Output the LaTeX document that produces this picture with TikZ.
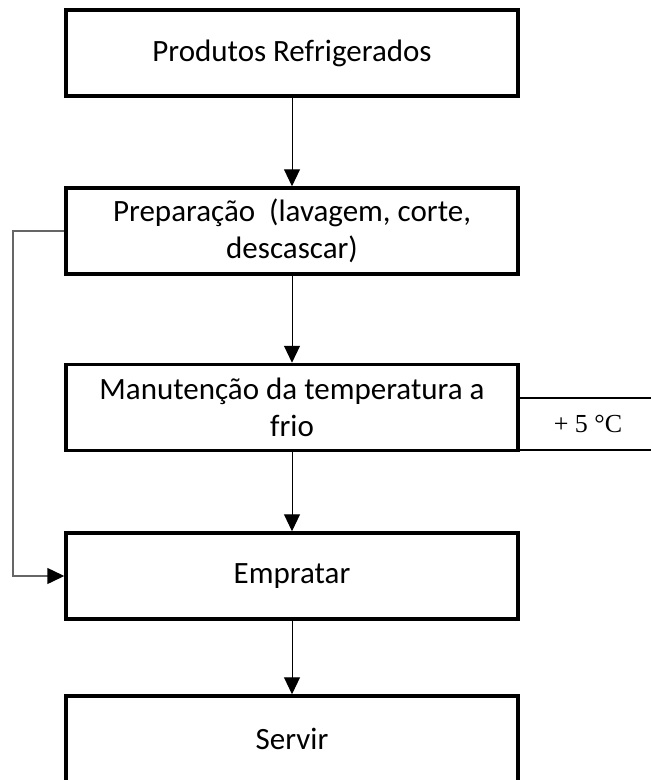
\documentclass[tikz,border=0pt]{standalone}
\usepackage{fontspec}
\setmainfont{Carlito}
\newfontfamily\serifnum{Liberation Serif}
\usetikzlibrary{arrows.meta}
\tikzset{
  x=1pt, y=1pt,
  stepbox/.style={draw=black, line width=3.5pt, minimum width=452pt, minimum height=86pt,
    inner sep=0pt, align=center, font=\fontsize{31}{37}\selectfont},
  tempbox/.style={draw=black, line width=2pt, minimum width=150pt, minimum height=52pt,
    inner sep=0pt, anchor=north west, font=\serifnum\fontsize{26}{30}\selectfont},
  flow/.style={draw=black, line width=1pt, -{Triangle[length=17pt, width=16pt, color=black]}},
  loopline/.style={draw=black!60, line width=1.5pt, -{Triangle[length=17pt, width=16pt, color=black]}}
}
\begin{document}
\begin{tikzpicture}
\useasboundingbox (0,0) rectangle (651,-780);
\clip (0,0) rectangle (651,-780);
\fill[white] (0,0) rectangle (651,-780);
\node[tempbox] (t) at (518,-397) {\hspace*{-12pt}+ 5 °C};
\node[stepbox] (b1) at (292,-53) {Produtos Refrigerados};
\node[stepbox] (b2) at (292,-231) {Preparação\ \ (lavagem, corte,\\descascar)};
\node[stepbox] (b3) at (292,-407.5) {Manutenção da temperatura a\\frio};
\node[stepbox] (b4) at (292,-576) {Empratar};
\node[stepbox] (b5) at (292,-739) {Servir};
\coordinate (lx) at (13,-231);
\draw[flow] (b1.south) -- (b2.north);
\draw[flow] (b2.south) -- (b3.north);
\draw[flow] (b3.south) -- (b4.north);
\draw[flow] (b4.south) -- (b5.north);
\draw[loopline] (b2.west) -- (lx) |- (b4.west);
\end{tikzpicture}
\end{document}
